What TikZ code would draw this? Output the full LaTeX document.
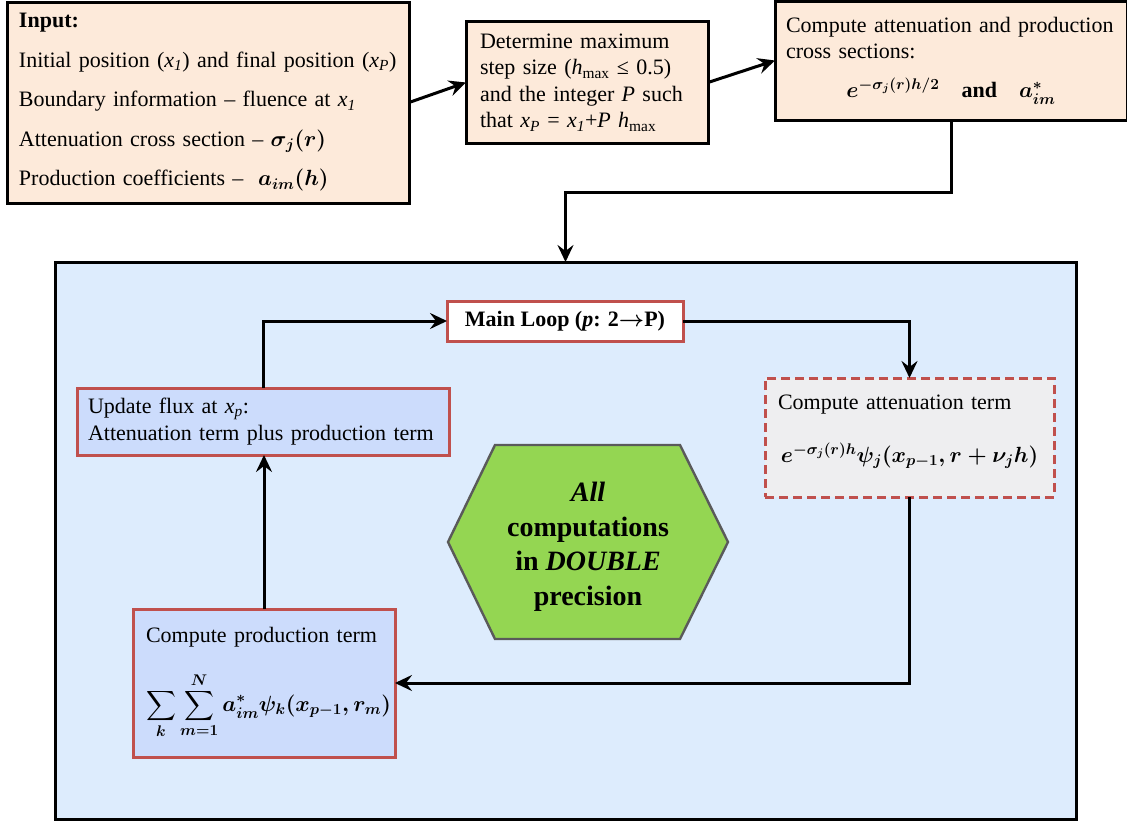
\RequirePackage{fix-cm}
\documentclass[tikz,border=0pt]{standalone}
\usepackage{amsmath}
\usepackage{fontspec}
\setmainfont{Liberation Serif}
\usetikzlibrary{arrows.meta,calc}
\definecolor{peach}{RGB}{253,234,218}
\definecolor{frameblue}{RGB}{221,236,253}
\definecolor{boxblue}{RGB}{204,220,252}
\definecolor{attgray}{RGB}{238,238,240}
\definecolor{redb}{RGB}{192,80,77}
\definecolor{hexgreen}{RGB}{148,214,82}
\definecolor{hexborder}{RGB}{90,90,90}
\newcommand{\tx}[2]{\textit{#1}\textsubscript{\textit{#2}}}
\tikzset{
  box/.style={draw, line width=3pt, outer sep=0pt, inner ysep=0pt, align=left,
    font=\fontsize{22}{26.5}\selectfont},
  inbox/.style={box, fill=peach, draw=black},
  bluebox/.style={box, fill=boxblue, draw=redb},
  conn/.style={line width=3pt, draw=black, -{Stealth[length=17pt,width=16pt,inset=6pt]}},
}
\begin{document}
\begin{tikzpicture}[x=1pt,y=-1pt]
\useasboundingbox (0,0) rectangle (1127,822);
% frame
\node[draw, line width=3pt, fill=frameblue, minimum width=1021pt, minimum height=557pt, outer sep=0pt] (frame) at (565.5,540.5) {};
% top boxes
\node[inbox, minimum height=201pt, text width=378pt, inner xsep=12pt, font=\fontsize{22}{39.5}\selectfont] (input) at (208,102.5)
 {\textbf{Input:}\\
  Initial position (\tx{x}{1}) and final position (\tx{x}{P})\\
  Boundary information -- fluence at \tx{x}{1}\\
  Attenuation cross section -- {\boldmath$\sigma_j(r)$}\\
  Production coefficients -- \ {\boldmath$a_{im}(h)$}};
\node[inbox, minimum height=122pt, text width=214pt, inner xsep=14pt] (det) at (587,82.5)
 {Determine maximum\\
  step size (\textit{h}\textsubscript{max} ≤ 0.5)\\
  and the integer \textit{P} such\\
  that \tx{x}{P} = \tx{x}{1}+\textit{P} \textit{h}\textsubscript{max}};
\node[inbox, minimum height=119pt, text width=330pt, inner xsep=11pt] (cs) at (951,60.5)
 {Compute attenuation and production\\
  cross sections:\\[12pt]
  \makebox[\linewidth][c]{\boldmath$e^{-\sigma_j(r)h/2}$\quad\textbf{and}\quad$a^{*}_{im}$}\rule[-6pt]{0pt}{6pt}};
% inner boxes
\node[box, fill=white, draw=redb, minimum width=236pt, minimum height=40pt, inner xsep=0pt, align=center] (loop) at (565,321)
 {\textbf{Main Loop (\textit{p}: 2{\boldmath$\rightarrow$}P)}};
\node[bluebox, minimum height=67pt, text width=350pt, inner xsep=11pt] (update) at (263,421.5)
 {Update flux at \tx{x}{p}:\\ Attenuation term plus production term};
\node[box, fill=attgray, draw=redb, dash pattern=on 9pt off 5pt, minimum height=119pt, text width=263pt, inner xsep=13pt] (att) at (909.5,437.5)
 {Compute attenuation term\\[26pt]
  \makebox[\linewidth][c]{\boldmath$e^{-\sigma_j(r)h}\psi_j(x_{p-1},r+\nu_j h)$}\rule[-18pt]{0pt}{18pt}};
\node[bluebox, minimum height=148pt, text width=236pt, inner xsep=13pt] (prod) at (264,683)
 {Compute production term\\[24pt]
  \makebox[\linewidth][l]{\boldmath$\displaystyle\sum_k\sum_{m=1}^{N} a^{*}_{im}\psi_k(x_{p-1},r_m)$}\rule[-18pt]{0pt}{18pt}};
% hexagon
\filldraw[fill=hexgreen, draw=hexborder, line width=2.4pt] (448,542) -- (495,445) -- (680,445) -- (728,542) -- (680,639) -- (495,639) -- cycle;
\node[align=center, font=\fontsize{28}{34.5}\selectfont\bfseries] (hex) at (588,547)
 {\textit{All}\\computations\\in \textit{DOUBLE}\\precision};
% connectors
\draw[conn] (input.east) -- (det.west);
\draw[conn] (det.east) -- (cs.west);
\draw[conn] (cs.south) |- ([yshift=70pt]frame.north) -- (frame.north);
\draw[conn] (update.north) |- (loop.west);
\draw[conn] (loop.east) -| (att.north);
\draw[conn] (att.south) |- (prod.east);
\draw[conn] (prod.north) -- (prod.north |- update.south);
\end{tikzpicture}
\end{document}
